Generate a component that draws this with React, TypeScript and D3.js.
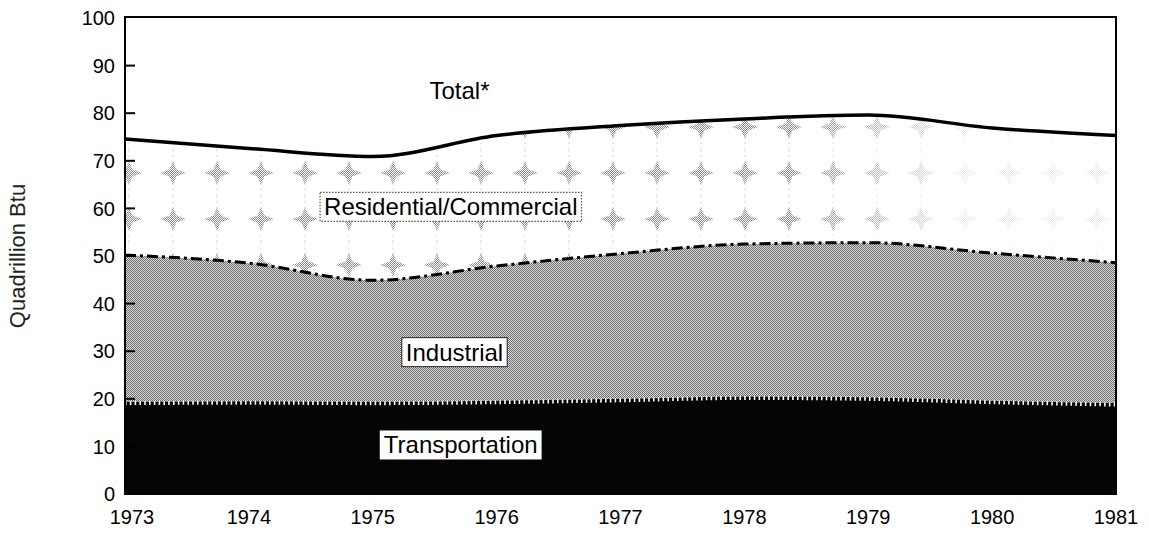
import React, { useRef, useLayoutEffect, useState } from 'react';
import * as d3 from 'd3';

// ---- data ----
const years = [1973, 1974, 1975, 1976, 1977, 1978, 1979, 1980, 1981];
const transportation = [19.4, 19.5, 19.4, 19.6, 20.0, 20.5, 20.3, 19.6, 19.1];
const industrial = [30.8, 29.0, 25.5, 28.3, 30.5, 32.0, 32.5, 31.0, 29.5];
const residentialCommercial = [24.4, 24.1, 26.0, 27.4, 26.9, 26.3, 26.8, 26.3, 26.7];
const seriesNames = ['Transportation', 'Industrial', 'Residential/Commercial'];
const yTicks = [0, 10, 20, 30, 40, 50, 60, 70, 80, 90, 100];
const xTickLabels = years.map(String);
const yAxisTitle = 'Quadrillion Btu';
const totalLabel = 'Total*';

// label anchors in data units
const labelAnchors = [
  { text: totalLabel, year: 1975.7, value: 84.7, box: 'none' },
  { text: 'Residential/Commercial', year: 1975.63, value: 60.3, box: 'dotted' },
  { text: 'Industrial', year: 1975.66, value: 29.8, box: 'solid' },
  { text: 'Transportation', year: 1975.71, value: 10.3, box: 'plain' },
];

const W = 1149;
const H = 534;
const FONT = '"Liberation Sans", Arial, Helvetica, sans-serif';

const x = d3.scaleLinear().domain([1973, 1981]).range([125, 1116]);
const y = d3.scaleLinear().domain([0, 100]).range([494, 18]);

function BoxLabel({ text, px, py, box }: { text: string; px: number; py: number; box: string }) {
  const ref = useRef<SVGTextElement>(null);
  const [bb, setBb] = useState<{ w: number; h: number } | null>(null);
  useLayoutEffect(() => {
    if (ref.current) {
      const b = ref.current.getBBox();
      setBb({ w: b.width, h: b.height });
    }
  }, [text]);
  const padX = 4;
  const padY = 1;
  return (
    <g>
      {bb && box !== 'none' && (
        <rect
          x={px - bb.w / 2 - padX}
          y={py - bb.h / 2 - padY}
          width={bb.w + padX * 2}
          height={bb.h + padY * 2}
          fill="#fff"
          stroke={box === 'dotted' ? '#555' : box === 'solid' ? '#222' : 'none'}
          strokeWidth={box === 'dotted' ? 1.2 : 1}
          strokeDasharray={box === 'dotted' ? '1.5,1.5' : undefined}
        />
      )}
      <text
        ref={ref}
        x={px}
        y={py}
        dy="0.35em"
        textAnchor="middle"
        fontFamily={FONT}
        fontSize={24}
        fill="#000"
      >
        {text}
      </text>
    </g>
  );
}

export default function App() {
  const rows = years.map((yr, i) => ({
    year: yr,
    Transportation: transportation[i],
    Industrial: industrial[i],
    'Residential/Commercial': residentialCommercial[i],
  }));
  const stacked = d3.stack<any>().keys(seriesNames)(rows);

  const area = d3
    .area<any>()
    .x((d) => x(d.data.year))
    .y0((d) => y(d[0]))
    .y1((d) => y(d[1]))
    .curve(d3.curveMonotoneX);
  const topLine = d3
    .line<any>()
    .x((d) => x(d.data.year))
    .y((d) => y(d[1]))
    .curve(d3.curveMonotoneX);

  const [tr, ind, res] = stacked;
  const x0 = x(1973);
  const x1 = x(1981);
  const yTop = y(100);
  const yBot = y(0);

  return (
    <svg
      width={W}
      height={H}
      style={{ position: 'absolute', left: 0, top: 0, background: '#fff' }}
    >
      <defs>
        <pattern id="checker" patternUnits="userSpaceOnUse" x={0} y={0} width={2} height={2}>
          <rect width={2} height={2} fill="#d8d8d8" />
          <rect width={1} height={1} fill="#707070" />
          <rect x={1} y={1} width={1} height={1} fill="#707070" />
        </pattern>
        <pattern id="lightChecker" patternUnits="userSpaceOnUse" x={0} y={0} width={2} height={2}>
          <rect width={2} height={2} fill="#fff" />
          <rect width={1} height={1} fill="#8a8a8a" />
          <rect x={1} y={1} width={1} height={1} fill="#8a8a8a" />
        </pattern>
        <pattern id="blobs" patternUnits="userSpaceOnUse" x={151} y={150} width={44} height={46}>
          <rect width={44} height={46} fill="#fff" />
          <line x1={22} y1={0} x2={22} y2={46} stroke="#cfcfcf" strokeWidth={1} strokeDasharray="1.5,4" />
          <path
            d="M22,11 L25.5,19.5 L35,23 L25.5,26.5 L22,35 L18.5,26.5 L9,23 L18.5,19.5 Z"
            fill="url(#lightChecker)"
          />
          <circle cx={22} cy={23} r={4.5} fill="url(#lightChecker)" />
        </pattern>
        <linearGradient id="fadeGrad" gradientUnits="userSpaceOnUse" x1={790} y1={0} x2={960} y2={0}>
          <stop offset="0" stopColor="#fff" />
          <stop offset="1" stopColor="#2a2a2a" />
        </linearGradient>
        <mask id="fadeMask" maskUnits="userSpaceOnUse" x={0} y={0} width={W} height={H}>
          <rect x={0} y={0} width={W} height={H} fill="url(#fadeGrad)" />
        </mask>
        <clipPath id="plotClip">
          <rect x={x0} y={yTop} width={x1 - x0} height={yBot - yTop} />
        </clipPath>
      </defs>

      <g clipPath="url(#plotClip)">
        {/* residential / commercial */}
        <path d={area(res) || ''} fill="#fff" />
        <g mask="url(#fadeMask)">
          <path d={area(res) || ''} fill="url(#blobs)" />
        </g>
        {/* industrial */}
        <path d={area(ind) || ''} fill="url(#checker)" />
        {/* transportation */}
        <path d={area(tr) || ''} fill="#050505" />
        {/* sawtooth boundary */}
        <path
          d={topLine(tr) || ''}
          fill="none"
          stroke="#fff"
          strokeWidth={4}
          strokeDasharray="1.6,3.2"
          transform="translate(0,1.5)"
        />
        {/* industrial top: dash-dot */}
        <path
          d={topLine(ind) || ''}
          fill="none"
          stroke="#000"
          strokeWidth={3}
          strokeDasharray="11,4,3,4"
        />
        {/* total line */}
        <path d={topLine(res) || ''} fill="none" stroke="#000" strokeWidth={3.5} />
      </g>

      {/* frame */}
      <rect
        x={x0}
        y={yTop - 1}
        width={x1 - x0}
        height={yBot - yTop + 1}
        fill="none"
        stroke="#000"
        strokeWidth={2}
      />

      {/* y ticks */}
      {yTicks.map((t) => (
        <g key={t}>
          {t > 0 && t < 100 && (
            <line x1={x0} x2={x0 + 10} y1={y(t)} y2={y(t)} stroke="#000" strokeWidth={2} />
          )}
          <text
            x={x0 - 10}
            y={y(t)}
            dy="0.36em"
            textAnchor="end"
            fontFamily={FONT}
            fontSize={20}
            fill="#000"
          >
            {t}
          </text>
        </g>
      ))}

      {/* x tick labels */}
      {years.map((yr, i) => (
        <text
          key={yr}
          x={x(yr) + (i === 0 ? 7 : 0)}
          y={524}
          textAnchor="middle"
          fontFamily={FONT}
          fontSize={20}
          fill="#000"
        >
          {xTickLabels[i]}
        </text>
      ))}

      {/* y axis title */}
      <text
        transform={`translate(25,${(yTop + yBot) / 2}) rotate(-90)`}
        textAnchor="middle"
        fontFamily={FONT}
        fontSize={22}
        fill="#222"
      >
        {yAxisTitle}
      </text>

      {/* series labels */}
      {labelAnchors.map((l) => (
        <BoxLabel key={l.text} text={l.text} px={x(l.year)} py={y(l.value)} box={l.box} />
      ))}
    </svg>
  );
}
